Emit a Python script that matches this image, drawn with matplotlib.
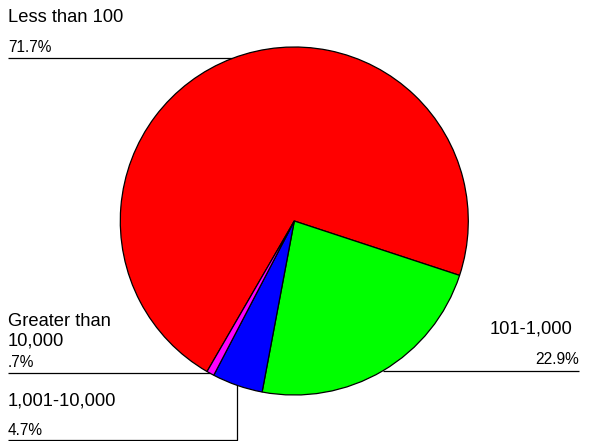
import numpy as np
import matplotlib
matplotlib.use("Agg")
import matplotlib.pyplot as plt

categories = ["Less than 100", "101-1,000", "1,001-10,000", "Greater than\n10,000"]
values = [71.7, 22.9, 4.7, 0.7]
pct_labels = ["71.7%", "22.9%", "4.7%", ".7%"]
colors = ["#FF0000", "#00FF00", "#0000FF", "#FF00FF"]

W, H = 593, 441
fig = plt.figure(figsize=(W / 100, H / 100), dpi=100)
ax = fig.add_axes([0, 0, 1, 1])
plt.rcParams['font.family'] = ['Liberation Sans', 'DejaVu Sans']

cx, cy, r = 294.3, H - 221.0, 174.0
start = 239.9
wedges, _ = ax.pie(values, colors=colors, startangle=start, counterclock=False,
                   center=(cx, cy), radius=r, frame=True,
                   wedgeprops=dict(edgecolor="black", linewidth=0.9))

# mid-angle anchor points on the rim
cum = np.cumsum([0] + values[:-1])
mids = start - (cum + np.array(values) / 2) * 3.6
pts = [(cx + r * np.cos(np.radians(a)), cy + r * np.sin(np.radians(a))) for a in mids]

lk = dict(color="black", linewidth=0.9, solid_capstyle="butt")
left_x, right_x = 8, 579
fs_lab, fs_pct = 13.2, 11.2

# Less than 100
x0, y0 = pts[0]
ax.plot([left_x, x0], [y0, y0], **lk)
ax.text(left_x, y0 + 36, categories[0], fontsize=fs_lab, ha="left", va="baseline")
ax.text(left_x, y0 + 6.5, pct_labels[0], fontsize=fs_pct, ha="left", va="baseline")

# 101-1,000
x1, y1 = pts[1]
ax.plot([x1, right_x], [y1, y1], **lk)
ax.text(right_x - 7, y1 + 37.5, categories[1], fontsize=fs_lab, ha="right", va="baseline")
ax.text(right_x, y1 + 6.5, pct_labels[1], fontsize=fs_pct, ha="right", va="baseline")

# 1,001-10,000 (vertical then horizontal)
x2, y2 = pts[2]
ybot = H - 440
ax.plot([x2, x2, left_x], [y2, ybot, ybot], **lk)
ax.text(left_x, H - 406, categories[2], fontsize=fs_lab, ha="left", va="baseline")
ax.text(left_x, H - 435, pct_labels[2], fontsize=fs_pct, ha="left", va="baseline")

# Greater than 10,000
x3, y3 = pts[3]
ax.plot([left_x, x3], [y3, y3], **lk)
lines = categories[3].split("\n")
for i, ln in enumerate(lines):
    ax.text(left_x, y3 + 27.5 + 20.3 * (len(lines) - 1 - i), ln,
            fontsize=fs_lab, ha="left", va="baseline")
ax.text(left_x, y3 + 6.8, pct_labels[3], fontsize=fs_pct, ha="left", va="baseline")

ax.set_xlim(0, W)
ax.set_ylim(0, H)
ax.set_aspect("auto")
ax.axis("off")
fig.savefig("out.png", dpi=100, facecolor="white")
